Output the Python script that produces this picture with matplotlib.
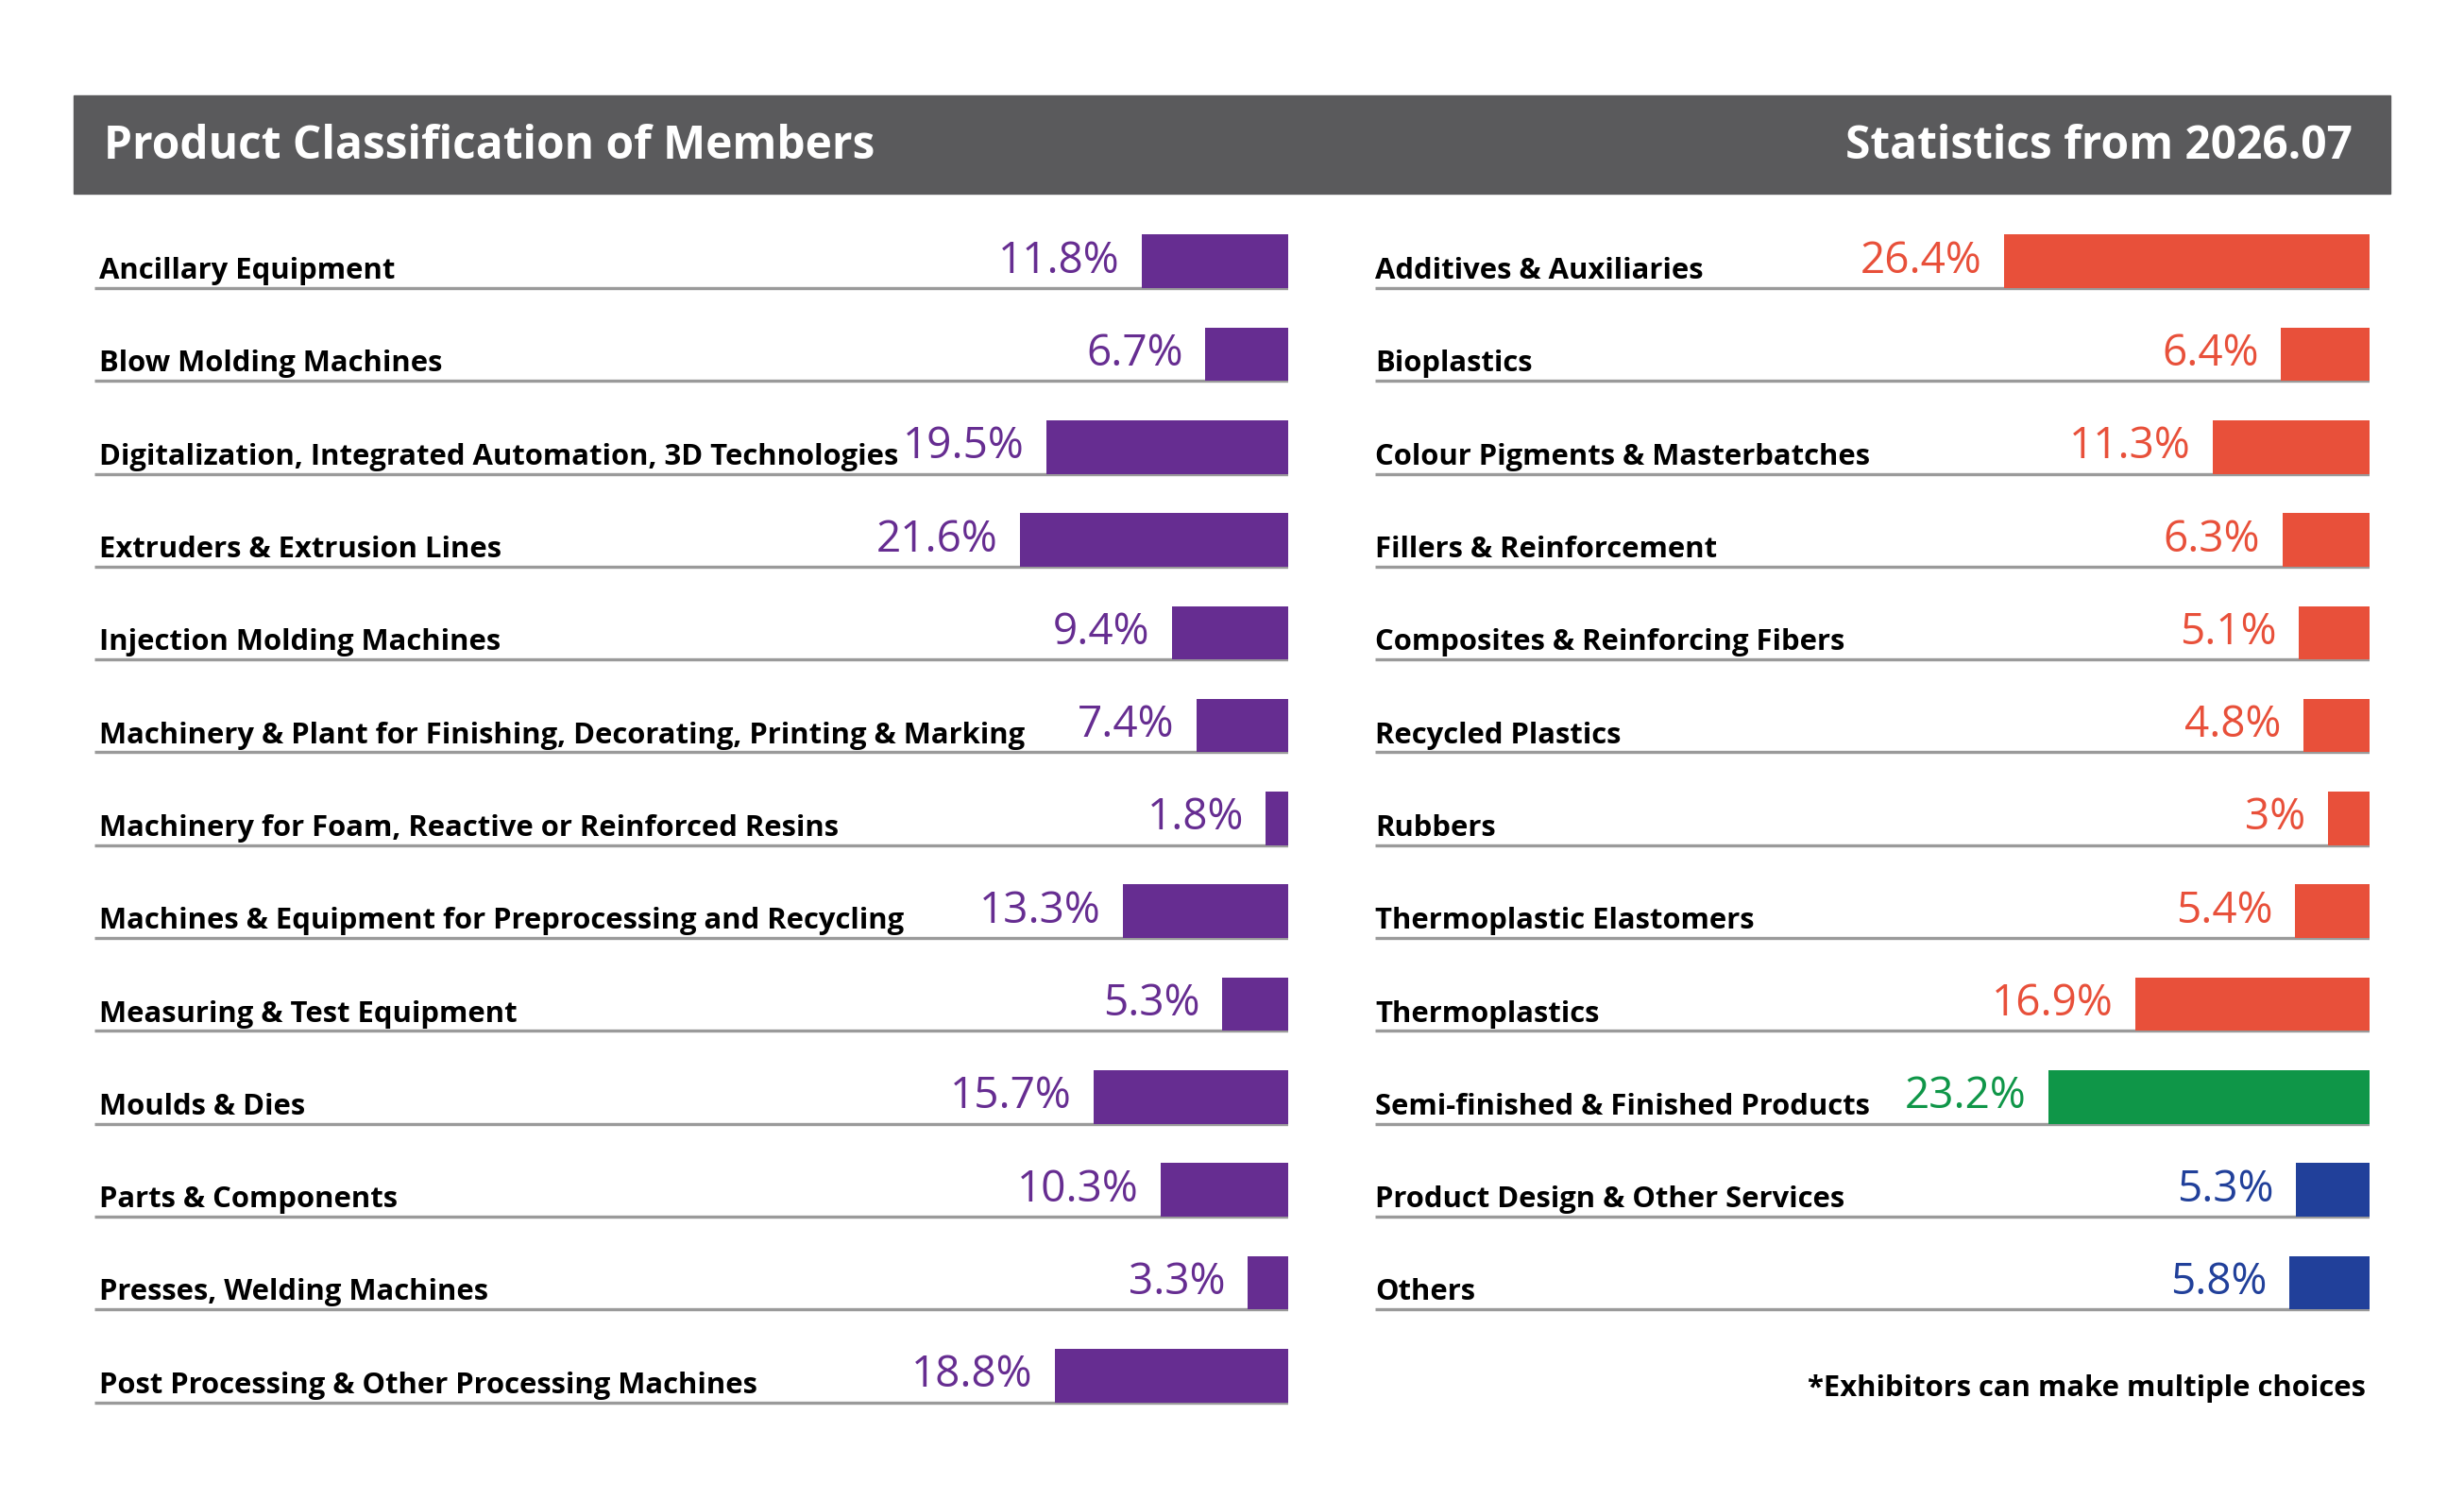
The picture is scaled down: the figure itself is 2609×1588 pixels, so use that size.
import matplotlib.pyplot as plt
from matplotlib.patches import Rectangle

# data
left_labels = ['Ancillary Equipment', 'Blow Molding Machines',
               'Digitalization, Integrated Automation, 3D Technologies',
               'Extruders & Extrusion Lines', 'Injection Molding Machines',
               'Machinery & Plant for Finishing, Decorating, Printing & Marking',
               'Machinery for Foam, Reactive or Reinforced Resins',
               'Machines & Equipment for Preprocessing and Recycling',
               'Measuring & Test Equipment', 'Moulds & Dies',
               'Parts & Components', 'Presses, Welding Machines',
               'Post Processing & Other Processing Machines']
left_values = [11.8, 6.7, 19.5, 21.6, 9.4, 7.4, 1.8, 13.3, 5.3, 15.7, 10.3, 3.3, 18.8]

right_labels = ['Additives & Auxiliaries', 'Bioplastics',
                'Colour Pigments & Masterbatches', 'Fillers & Reinforcement',
                'Composites & Reinforcing Fibers', 'Recycled Plastics', 'Rubbers',
                'Thermoplastic Elastomers', 'Thermoplastics',
                'Semi-finished & Finished Products',
                'Product Design & Other Services', 'Others']
right_values = [26.4, 6.4, 11.3, 6.3, 5.1, 4.8, 3, 5.4, 16.9, 23.2, 5.3, 5.8]
right_groups = ['mat'] * 9 + ['prod', 'serv', 'serv']

PURPLE = '#662d91'
group_colors = {'mat': '#e8503a', 'prod': '#0f9648', 'serv': '#21409a'}
HEADER = '#5a5a5c'
LINE = '#9a9a9a'

plt.rcParams['font.family'] = ['Open Sans', 'DejaVu Sans']

W, H = 2609, 1588
fig = plt.figure(figsize=(W / 100, H / 100), dpi=100)

# header band
fig.patches.append(Rectangle((78 / W, 1 - 205 / H), (2531 - 78) / W, 104 / H,
                             transform=fig.transFigure, color=HEADER, zorder=0))
fig.text(110 / W, 1 - 155 / H, 'Product Classification of Members', color='white',
         fontsize=34.5, fontweight='bold', va='center', ha='left')
fig.text(2491 / W, 1 - 155 / H, 'Statistics from 2026.07', color='white',
         fontsize=34.5, fontweight='bold', va='center', ha='right')

BAR_H = 0.576
YLIM = (12.157, -0.763)
LABEL_SIZE = 22.3


def panel(rect, labels, values, colors, xmax, label_pad):
    ax = fig.add_axes(rect)
    ax.set_xlim(xmax, 0)
    ax.set_ylim(*YLIM)
    ax.axis('off')
    for i, (lab, v, c) in enumerate(zip(labels, values, colors)):
        ax.hlines(i, xmax, 0, color=LINE, lw=2.4, zorder=1)
        ax.barh(i - BAR_H / 2, v, height=BAR_H, left=0, color=c, zorder=2)
        ax.text(xmax - label_pad, i - 0.1, lab, fontsize=LABEL_SIZE,
                fontweight='bold', ha='left', va='baseline', color='black')
        ax.annotate('{:g}%'.format(v), (v, i - BAR_H / 2), xytext=(-17, 0),
                    textcoords='offset points', ha='right', va='center',
                    fontsize=33, color=c)
    return ax


left_ax = panel([100 / W, 1 - 1500 / H, 1264 / W, 1270 / H], left_labels,
                left_values, [PURPLE] * len(left_values), 96.3, 0.4)
right_ax = panel([1456 / W, 1 - 1500 / H, 1053 / W, 1270 / H], right_labels,
                 right_values, [group_colors[g] for g in right_groups], 71.8, 0)

right_ax.text(0.3, 12 - 0.07, '*Exhibitors can make multiple choices',
              fontsize=LABEL_SIZE, fontweight='bold', ha='right', va='baseline',
              color='black')

plt.savefig('out.png', dpi=100)
